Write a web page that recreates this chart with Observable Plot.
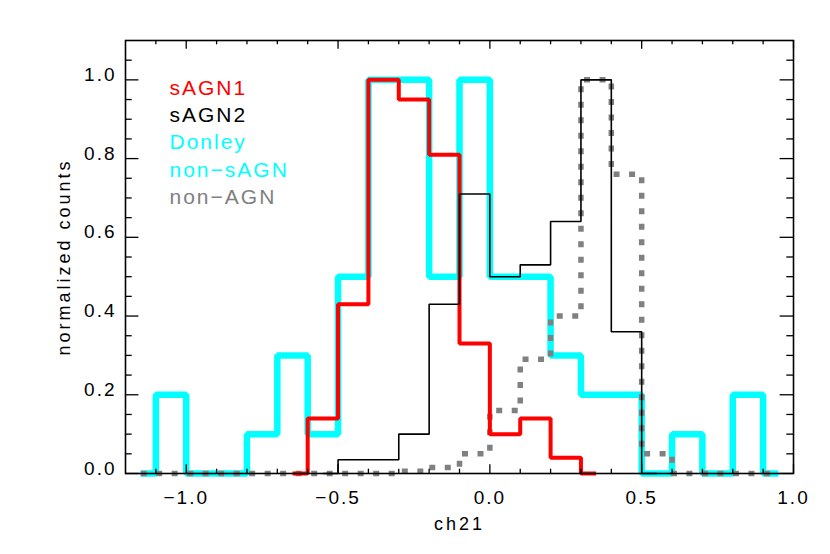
<!DOCTYPE html>
<html>
<head>
<meta charset="utf-8">
<script src="https://cdn.jsdelivr.net/npm/d3@7"></script>
<script src="https://cdn.jsdelivr.net/npm/@observablehq/plot@0.6"></script>
<style>
  html, body { margin: 0; padding: 0; background: #fff; }
  svg text { font-family: "Liberation Sans", Arial, Helvetica, sans-serif; }
  .tl text { letter-spacing: 2px; }
  .at text { letter-spacing: 3px; }
  .lg text { letter-spacing: 2px; }
</style>
</head>
<body>
<div id="chart"></div>
<script>
// Bin centres (width 0.1) shared by the full-range histograms
const centers = [-1.15,-1.05,-0.95,-0.85,-0.75,-0.65,-0.55,-0.45,-0.35,-0.25,-0.15,-0.05,0.05,0.15,0.25,0.35,0.45,0.55,0.65,0.75,0.85,0.95];
// Donley non-sAGN (cyan)
const donley = [0,0.2,0,0,0.1,0.3,0.1,0.5,1.0,1.0,0.5,1.0,0.5,0.5,0.3,0.2,0.2,0,0.1,0,0.2,0];
// non-AGN (grey dashed)
const nonAGN = [0,0,0,0,0,0,0,0,0,0.006,0.015,0.05,0.16,0.29,0.40,1.0,0.76,0.05,0,0,0,0];
// sAGN1 (red)
const sagn1X = [-0.65,-0.55,-0.45,-0.35,-0.25,-0.15,-0.05,0.05,0.15,0.25,0.35];
const sagn1 = [0,0.14,0.43,1.0,0.95,0.81,0.33,0.10,0.14,0.04,0];
// sAGN2 (black)
const sagn2X = [-0.55,-0.45,-0.35,-0.25,-0.15,-0.05,0.05,0.15,0.25,0.35,0.45,0.55];
const sagn2 = [0,0.035,0.035,0.1,0.43,0.71,0.5,0.53,0.64,1.0,0.36,0];

// Axis ticks
const xMajor = [-1.0,-0.5,0.0,0.5,1.0];
const xMinor = [-1.1,-0.9,-0.8,-0.7,-0.6,-0.4,-0.3,-0.2,-0.1,0.1,0.2,0.3,0.4,0.6,0.7,0.8,0.9];
const yMajor = [0,0.2,0.4,0.6,0.8,1.0];
const yMinor = [0.05,0.1,0.15,0.25,0.3,0.35,0.45,0.5,0.55,0.65,0.7,0.75,0.85,0.9,0.95,1.05];

// Legend
const legendLabels = ["sAGN1","sAGN2","Donley","non\u2212sAGN","non\u2212AGN"];
const legendColors = ["#ff0000","#000000","#00ffff","#00ffff","#808080"];

const W = 830, H = 554, mL = 125, mR = 37, mT = 40, mB = 81;
const pw = W - mL - mR, ph = H - mT - mB;
const fmt = d3.format(".1f");

const toPts = (xs, ys) => xs.map((x, i) => ({x, y: ys[i]}));

const lineOpts = {x: "x", y: "y", curve: "step", strokeLinejoin: "miter", strokeLinecap: "butt"};

const chart = Plot.plot({
  width: W, height: H,
  marginLeft: mL, marginRight: mR, marginTop: mT, marginBottom: mB,
  x: {domain: [-1.2, 1.0], axis: null},
  y: {domain: [0, 1.1], axis: null},
  marks: [
    Plot.line(toPts(centers, donley), {...lineOpts, stroke: "#00ffff", strokeWidth: 6.5}),
    Plot.line(toPts(centers, nonAGN), {...lineOpts, stroke: "#808080", strokeWidth: 5.5, strokeDasharray: "6 9.5"}),
    Plot.line(toPts(sagn1X, sagn1), {...lineOpts, stroke: "#ff0000", strokeWidth: 4}),
    Plot.line(toPts(sagn2X, sagn2), {...lineOpts, stroke: "#000000", strokeWidth: 1.6}),
    // ticks (inward)
    Plot.tickX(xMajor, {x: d => d, stroke: "black", strokeWidth: 1.3, insetTop: ph - 8.7}),
    Plot.tickX(xMinor, {x: d => d, stroke: "black", strokeWidth: 1.3, insetTop: ph - 4.3}),
    Plot.tickX(xMajor, {x: d => d, stroke: "black", strokeWidth: 1.3, insetBottom: ph - 8.7}),
    Plot.tickX(xMinor, {x: d => d, stroke: "black", strokeWidth: 1.3, insetBottom: ph - 4.3}),
    Plot.tickY(yMajor, {y: d => d, stroke: "black", strokeWidth: 1.3, insetRight: pw - 13.4}),
    Plot.tickY(yMinor, {y: d => d, stroke: "black", strokeWidth: 1.3, insetRight: pw - 6.7}),
    Plot.tickY(yMajor, {y: d => d, stroke: "black", strokeWidth: 1.3, insetLeft: pw - 13.4}),
    Plot.tickY(yMinor, {y: d => d, stroke: "black", strokeWidth: 1.3, insetLeft: pw - 6.7}),
    Plot.frame({stroke: "black", strokeWidth: 1.6}),
    // tick labels
    Plot.text(xMajor, {x: d => d, text: d => fmt(d), frameAnchor: "bottom", dy: 24, textAnchor: "middle", lineAnchor: "middle", fontSize: 19, fill: "black", className: "tl"}),
    Plot.text(yMajor, {y: d => d, text: d => fmt(d), frameAnchor: "left", dx: -9, dy: -5, textAnchor: "end", lineAnchor: "middle", fontSize: 19, fill: "black", className: "tl"}),
    // axis titles
    Plot.text(["ch21"], {text: d => d, frameAnchor: "bottom", dy: 51, textAnchor: "middle", lineAnchor: "middle", fontSize: 18, fill: "black", className: "at"}),
    Plot.text(["normalized counts"], {text: d => d, frameAnchor: "left", dx: -61, rotate: -90, textAnchor: "middle", lineAnchor: "middle", fontSize: 18, fill: "black", className: "at"}),
    // legend
    ...legendLabels.map((lab, i) => Plot.text([lab], {
      text: d => d, frameAnchor: "top-left", dx: 44, dy: 47.5 + i * 27.3,
      textAnchor: "start", lineAnchor: "middle", fontSize: 21, fill: legendColors[i], className: "lg"
    }))
  ]
});
document.getElementById("chart").appendChild(chart);
</script>
</body>
</html>
